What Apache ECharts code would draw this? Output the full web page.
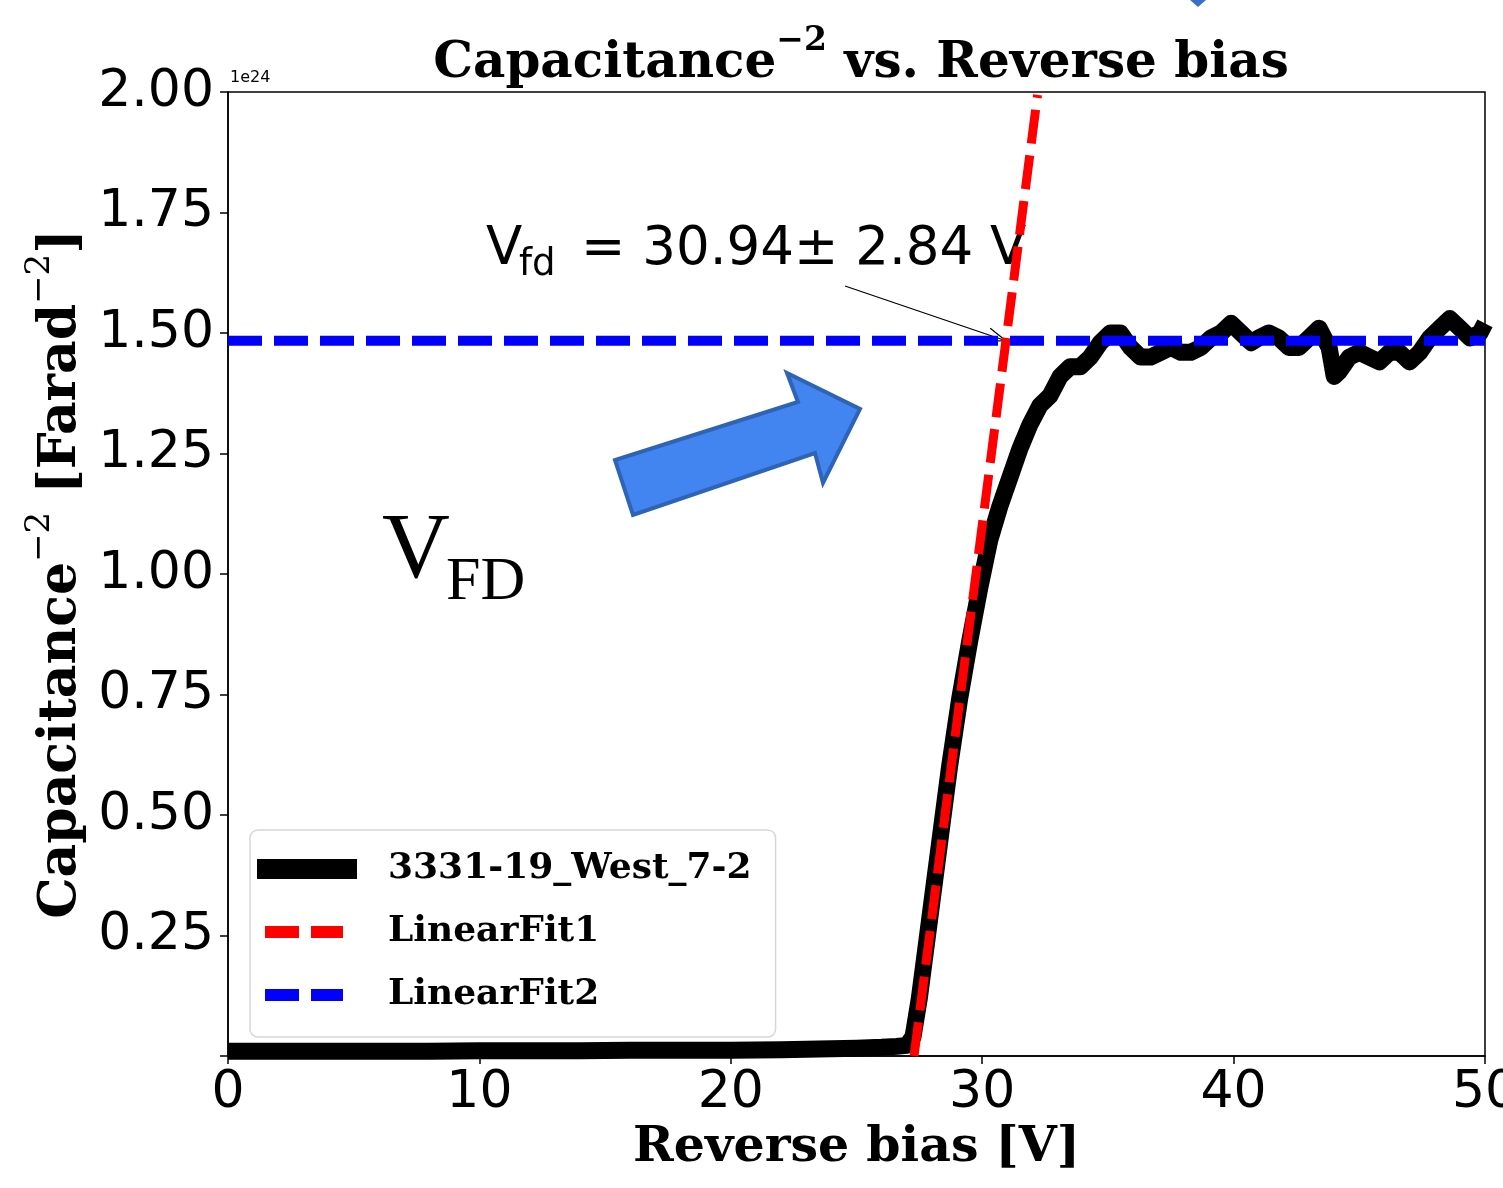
<!DOCTYPE html>
<html>
<head>
<meta charset="utf-8">
<script src="https://cdn.jsdelivr.net/npm/echarts@6/dist/echarts.min.js"></script>
<style>
  html, body { margin: 0; background: #fff; }
  #main { width: 1503px; height: 1188px; }
</style>
</head>
<body>
<div id="main"></div>
<script>
// reverse bias [V] and 1/C^2 [1e24 F^-2]
const biasV = [0, 2, 4, 6, 8, 10, 12, 14, 16, 18, 20, 22, 24, 25, 26, 26.6, 27.0,
  27.25, 27.5, 27.9, 28.3, 28.7, 29.1, 29.5, 29.9, 30.3, 30.7, 31.1, 31.5, 31.9,
  32.3, 32.7, 33.1, 33.5, 33.9, 34.3, 34.7, 35.1, 35.5, 35.9, 36.3, 36.7, 37.1,
  37.5, 37.9, 38.3, 38.7, 39.1, 39.5, 39.9, 40.3, 40.7, 41.0, 41.4, 41.8, 42.2,
  42.6, 43.0, 43.4, 43.8, 44.0, 44.2, 44.6, 45.0, 45.4, 45.8, 46.2, 46.6, 47.0,
  47.4, 47.8, 48.2, 48.6, 49.0, 49.4, 49.8, 50];
const capInv2 = [0.010, 0.010, 0.010, 0.010, 0.010, 0.011, 0.011, 0.011, 0.012, 0.012,
  0.012, 0.013, 0.015, 0.016, 0.018, 0.020, 0.022,
  0.04, 0.12, 0.28, 0.44, 0.60, 0.74, 0.86, 0.97, 1.07, 1.14, 1.20, 1.26, 1.31,
  1.35, 1.37, 1.41, 1.43, 1.43, 1.45, 1.48, 1.50, 1.50, 1.47, 1.45, 1.45, 1.46,
  1.47, 1.46, 1.46, 1.47, 1.49, 1.50, 1.52, 1.50, 1.48, 1.49, 1.50, 1.49, 1.47,
  1.47, 1.49, 1.51, 1.47, 1.41, 1.42, 1.45, 1.46, 1.45, 1.44, 1.46, 1.46, 1.44,
  1.46, 1.49, 1.51, 1.53, 1.51, 1.49, 1.50, 1.52];

// fit lines (end points)
const fit1V = [27.29, 32.2];
const fit1C = [0, 1.994];
const fit2V = [0, 50];
const fit2C = [1.484, 1.484];

const vfd = 30.94;
const vfdErr = 2.84;
const yTicks = [0, 0.25, 0.5, 0.75, 1.0, 1.25, 1.5, 1.75, 2.0];

const serif = 'DejaVu Serif';
const sans = 'DejaVu Sans';

const chart = echarts.init(document.getElementById('main'));

const zip = (xs, ys) => xs.map((x, i) => [x, ys[i]]);

// two dashes inside a 100 x 12 box (tiny corner squares fix the box size)
const dashIcon = 'path://M0,6h0.1v0.1h-0.1z M8,0h34v12h-34z M54,0h32v12h-32z M99.9,6h0.1v0.1h-0.1z';

const labelRich = (size) => ({
  t: { fontFamily: serif, fontWeight: 'bold', fontSize: size, color: '#000', verticalAlign: 'bottom', lineHeight: 64 },
  s: { fontFamily: serif, fontSize: Math.round(size * 0.66), color: '#000', verticalAlign: 'top', lineHeight: 64 }
});

chart.setOption({
  animation: false,
  backgroundColor: '#fff',
  title: {
    text: '{t|Capacitance}{s|\u22122}{t| vs. Reverse bias}',
    left: 856,
    textAlign: 'center',
    top: 20,
    textStyle: { rich: labelRich(50) }
  },
  grid: {
    left: 228, right: 18, top: 92, bottom: 132,
    outerBoundsMode: 'none',
    containLabel: false,
    show: true, borderColor: '#000', borderWidth: 1.5
  },
  legend: {
    orient: 'vertical',
    left: 250, top: 830,
    padding: [21, 24, 24, 7],
    itemWidth: 100, itemHeight: 20, itemGap: 27,
    backgroundColor: '#fff',
    borderColor: '#d6d6d6', borderWidth: 1.5, borderRadius: 8,
    textStyle: { fontFamily: serif, fontWeight: 'bold', fontSize: 36, color: '#000', padding: [0, 0, 0, 26] },
    data: [
      { name: '3331-19_West_7-2', icon: 'rect' },
      { name: 'LinearFit1', icon: dashIcon },
      { name: 'LinearFit2', icon: dashIcon }
    ]
  },
  xAxis: {
    type: 'value', min: 0, max: 50, interval: 10,
    name: 'Reverse bias [V]', nameLocation: 'middle', nameGap: 68,
    nameTextStyle: { fontFamily: serif, fontWeight: 'bold', fontSize: 49, color: '#000' },
    axisLine: { lineStyle: { color: '#000', width: 1.5 } },
    axisTick: { inside: false, length: 8, lineStyle: { color: '#000', width: 1.5 } },
    axisLabel: { fontFamily: sans, fontSize: 52, color: '#000', margin: 11 },
    splitLine: { show: false }
  },
  yAxis: {
    type: 'value', min: 0, max: 2, interval: 0.25,
    name: '{t|Capacitance}{s|\u22122}{t| [Farad}{s|\u22122}{t|]}',
    nameLocation: 'middle', nameRotate: 90, nameGap: 140,
    nameTextStyle: { rich: labelRich(52) },
    axisLine: { lineStyle: { color: '#000', width: 1.5 } },
    axisTick: { inside: false, length: 8, lineStyle: { color: '#000', width: 1.5 } },
    axisLabel: {
      fontFamily: sans, fontSize: 52, color: '#000', margin: 14,
      formatter: v => (v === yTicks[0] ? '' : v.toFixed(2))
    },
    splitLine: { show: false }
  },
  series: [
    {
      name: '3331-19_West_7-2', type: 'line', data: zip(biasV, capInv2),
      showSymbol: false, symbol: 'none',
      lineStyle: { color: '#000', width: 17, join: 'round', cap: 'butt' },
      itemStyle: { color: '#000' }
    },
    {
      name: 'LinearFit1', type: 'line', data: zip(fit1V, fit1C),
      showSymbol: false, symbol: 'none',
      lineStyle: { color: '#ff0000', width: 9, type: [34, 12] },
      itemStyle: { color: '#ff0000' }
    },
    {
      name: 'LinearFit2', type: 'line', data: zip(fit2V, fit2C),
      showSymbol: false, symbol: 'none',
      lineStyle: { color: '#0000ff', width: 10, type: [34, 12] },
      itemStyle: { color: '#0000ff' }
    }
  ]
});

// annotation arrow pointing at the crossing of the two fits
const tip = chart.convertToPixel({ gridIndex: 0 }, [vfd, fit2C[0]]);
const tail = [845, 286];
const ang = Math.atan2(tip[1] - tail[1], tip[0] - tail[0]);
const head = (da) => [tip[0] - 20 * Math.cos(ang + da), tip[1] - 20 * Math.sin(ang + da)];

chart.setOption({
  graphic: [
    { type: 'text', left: 230, top: 70, style: { text: '1e24', font: '16px ' + sans, fill: '#000' } },
    // V_fd annotation
    { type: 'text', x: 486, y: 224, style: { text: 'V', font: '53px ' + sans, fill: '#000' } },
    { type: 'text', x: 519, y: 247, style: { text: 'fd', font: '37px ' + sans, fill: '#000' } },
    { type: 'text', x: 581, y: 224, style: { text: '= ' + vfd.toFixed(2) + '\u00b1 ' + vfdErr.toFixed(2) + ' V', font: '53px ' + sans, fill: '#000' } },
    { type: 'polyline', shape: { points: [tail, tip] }, style: { stroke: '#000', lineWidth: 1.2, fill: null } },
    { type: 'polyline', shape: { points: [head(0.35), tip, head(-0.35)] }, style: { stroke: '#000', lineWidth: 1.2, fill: null } },
    // big V_FD label
    { type: 'text', x: 382, y: 505, style: { text: 'V', font: '94px "Liberation Serif"', fill: '#000' } },
    { type: 'text', x: 446, y: 552, style: { text: 'FD', font: '62px "Liberation Serif"', fill: '#000' } },
    // blue block arrow
    {
      type: 'polygon',
      shape: { points: [[633, 515], [615, 460], [798, 402], [787, 373], [860, 409], [823, 483], [815, 453]] },
      style: { fill: '#4285f0', stroke: '#2f63b6', lineWidth: 4 }
    },
    { type: 'polygon', shape: { points: [[1190, 0], [1206, 0], [1198, 7]] }, style: { fill: '#3b6fc6' } }
  ]
});
</script>
</body>
</html>
